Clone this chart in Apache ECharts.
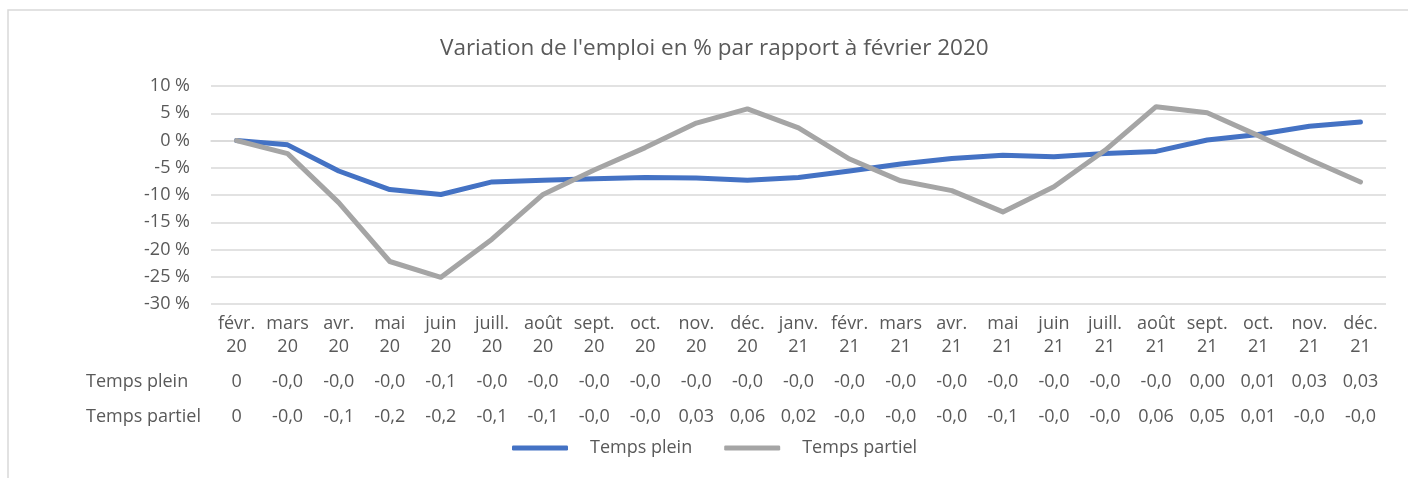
<!DOCTYPE html>
<html>
<head>
<meta charset="utf-8">
<script src="https://cdn.jsdelivr.net/npm/echarts@6/dist/echarts.min.js"></script>
<style>
html,body{margin:0;padding:0;background:#fff;}
#chart{width:1408px;height:478px;}
</style>
</head>
<body>
<div id="chart"></div>
<script>
const categories = ["févr.\n20","mars\n20","avr.\n20","mai\n20","juin\n20","juill.\n20","août\n20","sept.\n20","oct.\n20","nov.\n20","déc.\n20","janv.\n21","févr.\n21","mars\n21","avr.\n21","mai\n21","juin\n21","juill.\n21","août\n21","sept.\n21","oct.\n21","nov.\n21","déc.\n21"];
const tempsPlein = [0, -0.8, -5.6, -9.0, -9.9, -7.6, -7.3, -7.0, -6.8, -6.9, -7.3, -6.8, -5.6, -4.3, -3.3, -2.7, -3.0, -2.4, -2.0, 0.1, 1.1, 2.6, 3.4];
const tempsPartiel = [0, -2.4, -11.4, -22.2, -25.1, -18.1, -9.9, -5.4, -1.3, 3.2, 5.8, 2.3, -3.4, -7.4, -9.2, -13.1, -8.5, -1.8, 6.2, 5.1, 0.9, -3.5, -7.6];
const tablePlein = ["0","-0,0","-0,0","-0,0","-0,1","-0,0","-0,0","-0,0","-0,0","-0,0","-0,0","-0,0","-0,0","-0,0","-0,0","-0,0","-0,0","-0,0","-0,0","0,00","0,01","0,03","0,03"];
const tablePartiel = ["0","-0,0","-0,1","-0,2","-0,2","-0,1","-0,1","-0,0","-0,0","0,03","0,06","0,02","-0,0","-0,0","-0,0","-0,1","-0,0","-0,0","0,06","0,05","0,01","-0,0","-0,0"];
const seriesNames = ["Temps plein", "Temps partiel"];
const titleText = "Variation de l'emploi en % par rapport à février 2020";

const FONT = "Open Sans";
const TXT = "#595959";
const chart = echarts.init(document.getElementById('chart'), null, {renderer: 'canvas'});

function tableAxis(name, labels, offset) {
  return {
    type: 'category',
    data: categories,
    gridIndex: 0,
    position: 'bottom',
    offset: offset,
    boundaryGap: true,
    axisLine: {show: false},
    axisTick: {show: false},
    splitLine: {show: false},
    name: name,
    nameLocation: 'start',
    nameGap: 125,
    nameTextStyle: {color: TXT, fontFamily: FONT, fontSize: 18, align: 'left', verticalAlign: 'middle'},
    axisLabel: {
      interval: 0, margin: 0, verticalAlign: 'middle',
      color: TXT, fontFamily: FONT, fontSize: 18,
      formatter: (v, i) => labels[i]
    }
  };
}

chart.setOption({
  animation: false,
  backgroundColor: '#fff',
  graphic: [{
    type: 'rect', silent: true, z: -10,
    shape: {x: 8, y: 10, width: 1500, height: 520},
    style: {fill: 'none', stroke: '#d9d9d9', lineWidth: 1.5}
  }],
  title: {
    text: titleText, left: 440, top: 36, padding: 0,
    textStyle: {color: TXT, fontFamily: FONT, fontSize: 22.5, fontWeight: 'normal', lineHeight: 26}
  },
  legend: {
    data: seriesNames, left: 512, top: 439, padding: 0,
    icon: 'roundRect', itemWidth: 56, itemHeight: 5, itemGap: 32,
    textStyle: {color: TXT, fontFamily: FONT, fontSize: 18, padding: [0, 0, 0, 17]}
  },
  grid: {left: 211, right: 22, top: 86, bottom: 174, containLabel: false},
  xAxis: [
    {
      type: 'category', data: categories, boundaryGap: true,
      axisLine: {show: true, lineStyle: {color: '#d9d9d9', width: 1.5}},
      axisTick: {show: false},
      axisLabel: {interval: 0, margin: 8, color: TXT, fontFamily: FONT, fontSize: 18, lineHeight: 23}
    },
    tableAxis(seriesNames[0], tablePlein, 78),
    tableAxis(seriesNames[1], tablePartiel, 113)
  ],
  yAxis: {
    type: 'value', min: -30, max: 10, interval: 5,
    axisLine: {show: false}, axisTick: {show: false},
    splitLine: {lineStyle: {color: '#d9d9d9', width: 1.5}},
    axisLabel: {margin: 21, color: TXT, fontFamily: FONT, fontSize: 18, formatter: v => v + ' %'}
  },
  series: [
    {name: seriesNames[0], type: 'line', data: tempsPlein, symbol: 'none', xAxisIndex: 0,
     lineStyle: {color: '#4472C4', width: 5, cap: 'round', join: 'round'}, itemStyle: {color: '#4472C4'}},
    {name: seriesNames[1], type: 'line', data: tempsPartiel, symbol: 'none', xAxisIndex: 0,
     lineStyle: {color: '#A5A5A5', width: 5, cap: 'round', join: 'round'}, itemStyle: {color: '#A5A5A5'}}
  ]
});
</script>
</body>
</html>
